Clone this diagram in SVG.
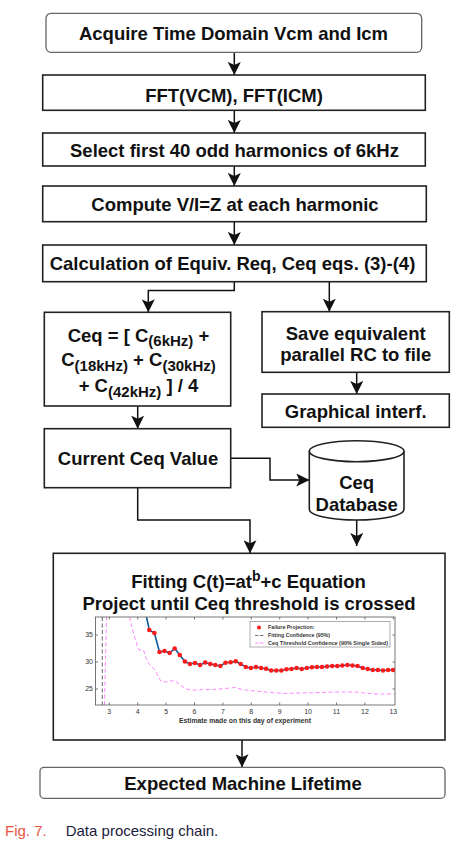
<svg xmlns="http://www.w3.org/2000/svg" width="468" height="846" viewBox="0 0 468 846">
<style>
  .box { fill: #ffffff; stroke: #222222; stroke-width: 1.6; }
  .rbox { fill: #ffffff; stroke: #666666; stroke-width: 1.3; }
  .t { font-family: "Liberation Sans", Arial, sans-serif; font-weight: bold; font-size: 18.5px; fill: #111111; text-anchor: middle; }
  .sub { font-size: 15px; }
  .edge { fill: none; stroke: #111111; stroke-width: 1.5; }
  .ax { fill: none; stroke: #555555; stroke-width: 0.8; }
  .tick { font-family: "Liberation Sans", Arial, sans-serif; font-size: 7px; fill: #333333; }
  .leg { font-family: "Liberation Sans", Arial, sans-serif; font-size: 5.3px; font-weight: bold; fill: #333333; }
  .cap { font-family: "Liberation Sans", Arial, sans-serif; font-size: 15px; }
</style>
<defs>
  <marker id="arr" markerUnits="userSpaceOnUse" markerWidth="13" markerHeight="13" refX="13" refY="6.5" orient="auto" viewBox="0 0 13 13">
    <path d="M0,0 L13,6.5 L0,13 L3,6.5 Z" fill="#111111"/>
  </marker>
  <clipPath id="plotclip"><rect x="95.5" y="617" width="299.5" height="88"/></clipPath>
</defs>
<rect x="0" y="0" width="468" height="846" fill="#ffffff"/>

<g id="connectors">
  <path class="edge" d="M234.3,52.3 V75" marker-end="url(#arr)"/>
  <path class="edge" d="M234.3,110.3 V133" marker-end="url(#arr)"/>
  <path class="edge" d="M234.3,166 V186" marker-end="url(#arr)"/>
  <path class="edge" d="M234.3,221.7 V245" marker-end="url(#arr)"/>
  <path class="edge" d="M234.3,281.7 V290.5 H148.3 V312.3" marker-end="url(#arr)"/>
  <path class="edge" d="M329.3,281.7 V311.7" marker-end="url(#arr)"/>
  <path class="edge" d="M356.7,372.3 V394" marker-end="url(#arr)"/>
  <path class="edge" d="M137.7,406 V428.7" marker-end="url(#arr)"/>
  <path class="edge" d="M230.7,458.3 H270 V480 H309.3" marker-end="url(#arr)"/>
  <path class="edge" d="M137.7,487.7 V520 H250 V553.3" marker-end="url(#arr)"/>
  <path class="edge" d="M356.7,520 V546" marker-end="url(#arr)"/>
  <path class="edge" d="M242,740 V767.3" marker-end="url(#arr)"/>
</g>

<g id="acquire">
  <rect class="rbox" x="46" y="13.3" width="375.7" height="39" rx="5"/>
  <text class="t" x="233.5" y="40">Acquire Time Domain Vcm and Icm</text>
</g>
<g id="fft">
  <rect class="box" x="42.7" y="75" width="382.6" height="35.3"/>
  <text class="t" x="234" y="101.6">FFT(VCM), FFT(ICM)</text>
</g>
<g id="select">
  <rect class="box" x="42.7" y="133" width="382.6" height="33"/>
  <text class="t" x="234.5" y="157.3">Select first 40 odd harmonics of 6kHz</text>
</g>
<g id="compute">
  <rect class="box" x="42.7" y="186" width="383.6" height="35.7"/>
  <text class="t" x="235" y="210.6">Compute V/I=Z at each harmonic</text>
</g>
<g id="calc">
  <rect class="box" x="42.7" y="245" width="383.6" height="36.7"/>
  <text class="t" x="232.5" y="270">Calculation of Equiv. Req, Ceq eqs. (3)-(4)</text>
</g>
<g id="ceqformula">
  <rect class="box" x="44.3" y="312.3" width="186.4" height="93.7"/>
  <text class="t" x="138.5" y="341.7">Ceq = [ C<tspan class="sub" dy="4.5">(6kHz)</tspan><tspan dy="-4.5"> +</tspan></text>
  <text class="t" x="138.5" y="366">C<tspan class="sub" dy="4.5">(18kHz)</tspan><tspan dy="-4.5"> + C</tspan><tspan class="sub" dy="4.5">(30kHz)</tspan></text>
  <text class="t" x="138.5" y="392">+ C<tspan class="sub" dy="4.5">(42kHz)</tspan><tspan dy="-4.5"> ] / 4</tspan></text>
</g>
<g id="save">
  <rect class="box" x="262" y="311.7" width="187.3" height="60.6"/>
  <text class="t" x="355.7" y="340">Save equivalent</text>
  <text class="t" x="355.7" y="361">parallel RC to file</text>
</g>
<g id="graphical">
  <rect class="box" x="262" y="394" width="187.3" height="33.3"/>
  <text class="t" x="355.7" y="417.8">Graphical interf.</text>
</g>
<g id="current">
  <rect class="box" x="44.3" y="428.7" width="186.4" height="59"/>
  <text class="t" x="138" y="465">Current Ceq Value</text>
</g>
<g id="database">
  <path d="M309.3,451.2 A47.35,10.5 0 0 1 404,451.2 L404,509.5 A47.35,10.5 0 0 1 309.3,509.5 Z" fill="#ffffff" stroke="#222222" stroke-width="1.6"/>
  <path d="M309.3,451.2 A47.35,10.5 0 0 0 404,451.2" fill="none" stroke="#222222" stroke-width="1.6"/>
  <text class="t" x="356.7" y="489">Ceq</text>
  <text class="t" x="356.7" y="510.6">Database</text>
</g>
<g id="fitting">
  <rect class="box" x="53.3" y="553.3" width="391.7" height="186.7"/>
  <text class="t" x="248.5" y="588.3">Fitting C(t)=at<tspan font-size="14px" dy="-7">b</tspan><tspan dy="7">+c Equation</tspan></text>
  <text class="t" x="249" y="610">Project until Ceq threshold is crossed</text>
  <g id="chart">
    <rect x="95.5" y="617" width="299.5" height="88" fill="#ffffff"/>
    <g clip-path="url(#plotclip)">
      <line x1="102.3" y1="617" x2="102.3" y2="705" stroke="#555555" stroke-width="0.9" stroke-dasharray="4,2.5"/>
      <polyline fill="none" stroke="#ff88ff" stroke-width="1" stroke-dasharray="4,2.5" points="104.5,705 105.5,660 106.5,617"/>
      <polyline fill="none" stroke="#ff88ff" stroke-width="1" stroke-dasharray="4,2.5" points="129.5,617 134,635 137,645 139,650 143.5,650 146,658 149,664 155,670 158,676 161,681.5 166,682 170,681.5 174,680 178,683 183,687 188,689.5 195,690 205,689.5 212,689.5 220,689 230,688 235,687.5 242,689.5 255,691 270,692.5 285,693.5 300,693 320,692.5 340,692 355,692 365,693 375,694 393,694 395,694"/>
      <polyline fill="none" stroke="#0a5aa0" stroke-width="1.6" points="146.5,617 149.3,630 154.4,633 159.5,652 164.5,651 169.6,653 174.7,648.5 179.8,655 184.9,661.5 189.9,664 195,663 200.1,665 205.2,662.5 210.3,664 215.3,665 220.4,666 225.5,662.7 230.6,662.3 235.7,661.3 240.7,664 245.8,667 250.9,668 256,667 261.1,668 266.1,668.7 271.2,670.5 276.3,670.5 281.4,670.5 286.5,669.3 291.5,669 296.6,668 301.7,669 306.8,668 311.9,667.3 316.9,667 322,667 327.1,666.5 332.2,666 337.3,666 342.3,665.5 347.4,665 352.5,665.5 357.6,666 362.7,668 367.7,669 372.8,670 377.9,670 383,670.5 388.1,670 393.1,670"/>
      <g fill="#ff1a1a">
        <circle cx="149.3" cy="630" r="2.3"/><circle cx="154.4" cy="633" r="2.3"/><circle cx="159.5" cy="652" r="2.3"/><circle cx="164.5" cy="651" r="2.3"/><circle cx="169.6" cy="653" r="2.3"/><circle cx="174.7" cy="648.5" r="2.3"/><circle cx="179.8" cy="655" r="2.3"/><circle cx="184.9" cy="661.5" r="2.3"/><circle cx="189.9" cy="664" r="2.3"/><circle cx="195" cy="663" r="2.3"/><circle cx="200.1" cy="665" r="2.3"/><circle cx="205.2" cy="662.5" r="2.3"/><circle cx="210.3" cy="664" r="2.3"/><circle cx="215.3" cy="665" r="2.3"/><circle cx="220.4" cy="666" r="2.3"/><circle cx="225.5" cy="662.7" r="2.3"/><circle cx="230.6" cy="662.3" r="2.3"/><circle cx="235.7" cy="661.3" r="2.3"/><circle cx="240.7" cy="664" r="2.3"/><circle cx="245.8" cy="667" r="2.3"/><circle cx="250.9" cy="668" r="2.3"/><circle cx="256" cy="667" r="2.3"/><circle cx="261.1" cy="668" r="2.3"/><circle cx="266.1" cy="668.7" r="2.3"/><circle cx="271.2" cy="670.5" r="2.3"/><circle cx="276.3" cy="670.5" r="2.3"/><circle cx="281.4" cy="670.5" r="2.3"/><circle cx="286.5" cy="669.3" r="2.3"/><circle cx="291.5" cy="669" r="2.3"/><circle cx="296.6" cy="668" r="2.3"/><circle cx="301.7" cy="669" r="2.3"/><circle cx="306.8" cy="668" r="2.3"/><circle cx="311.9" cy="667.3" r="2.3"/><circle cx="316.9" cy="667" r="2.3"/><circle cx="322" cy="667" r="2.3"/><circle cx="327.1" cy="666.5" r="2.3"/><circle cx="332.2" cy="666" r="2.3"/><circle cx="337.3" cy="666" r="2.3"/><circle cx="342.3" cy="665.5" r="2.3"/><circle cx="347.4" cy="665" r="2.3"/><circle cx="352.5" cy="665.5" r="2.3"/><circle cx="357.6" cy="666" r="2.3"/><circle cx="362.7" cy="668" r="2.3"/><circle cx="367.7" cy="669" r="2.3"/><circle cx="372.8" cy="670" r="2.3"/><circle cx="377.9" cy="670" r="2.3"/><circle cx="383" cy="670.5" r="2.3"/><circle cx="388.1" cy="670" r="2.3"/><circle cx="393.1" cy="670" r="2.3"/>
      </g>
    </g>
    <rect class="ax" x="95.5" y="617" width="299.5" height="88"/>
    <path class="ax" d="M109.3,617v2.5 M137.7,617v2.5 M166.1,617v2.5 M194.5,617v2.5 M222.9,617v2.5 M251.3,617v2.5 M279.7,617v2.5 M308.1,617v2.5 M336.5,617v2.5 M364.9,617v2.5 M393.3,617v2.5 M109.3,705v-2.5 M137.7,705v-2.5 M166.1,705v-2.5 M194.5,705v-2.5 M222.9,705v-2.5 M251.3,705v-2.5 M279.7,705v-2.5 M308.1,705v-2.5 M336.5,705v-2.5 M364.9,705v-2.5 M95.5,635h2.5 M95.5,662h2.5 M95.5,689h2.5 M395,635h-2.5 M395,662h-2.5 M395,689h-2.5"/>
    <g class="tick" text-anchor="end" font-size="6.5px">
      <text x="93" y="637.3">35</text>
      <text x="93" y="664.3">30</text>
      <text x="93" y="691.3">25</text>
    </g>
    <g class="tick" text-anchor="middle">
      <text x="109.3" y="714.3">3</text>
      <text x="137.7" y="714.3">4</text>
      <text x="166.1" y="714.3">5</text>
      <text x="194.5" y="714.3">6</text>
      <text x="222.9" y="714.3">7</text>
      <text x="251.3" y="714.3">8</text>
      <text x="279.7" y="714.3">9</text>
      <text x="308.1" y="714.3">10</text>
      <text x="336.5" y="714.3">11</text>
      <text x="364.9" y="714.3">12</text>
      <text x="393.3" y="714.3">13</text>
    </g>
    <text class="tick" x="245" y="722.5" text-anchor="middle" font-weight="bold" textLength="132" lengthAdjust="spacingAndGlyphs">Estimate made on this day of experiment</text>
    <g id="legend">
      <rect x="250" y="621.5" width="140" height="25.5" fill="#ffffff" stroke="#777777" stroke-width="0.6"/>
      <circle cx="259" cy="627.5" r="2" fill="#ff1a1a"/>
      <line x1="255" y1="635.5" x2="264" y2="635.5" stroke="#555555" stroke-width="0.8" stroke-dasharray="3.5,1.5"/>
      <line x1="255" y1="643" x2="264" y2="643" stroke="#ff88ff" stroke-width="1.2" stroke-dasharray="3.5,1.5"/>
      <text class="leg" x="268" y="629.3">Failure Projection:</text>
      <text class="leg" x="268" y="637.3">Fitting Confidence (95%)</text>
      <text class="leg" x="268" y="644.8" textLength="120" lengthAdjust="spacingAndGlyphs">Ceq Threshold Confidence (90% Single Sided)</text>
    </g>
  </g>
</g>
<g id="lifetime">
  <rect class="rbox" x="40" y="767.3" width="405" height="31" rx="4"/>
  <text class="t" x="243" y="790.4">Expected Machine Lifetime</text>
</g>
<g id="caption">
  <text class="cap" x="5" y="835.5" fill="#e8553f">Fig. 7.</text>
  <text class="cap" x="65.7" y="835.5" fill="#1c1c40">Data processing chain.</text>
</g>
</svg>
